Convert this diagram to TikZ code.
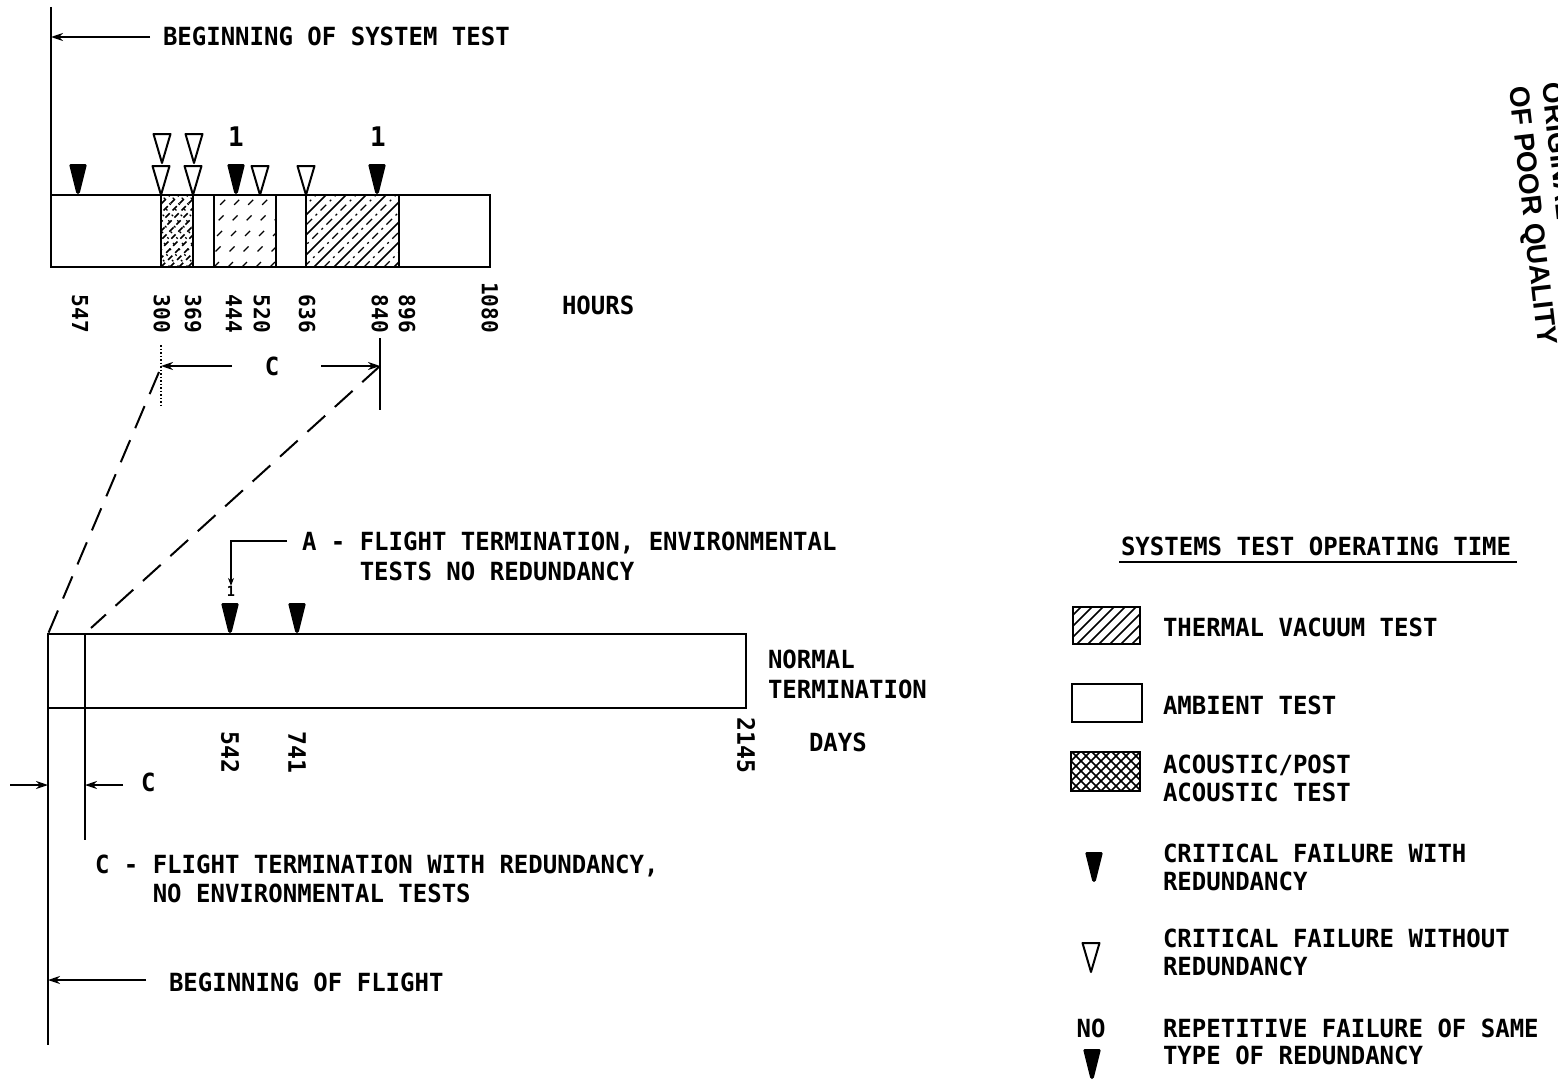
\documentclass[tikz,border=0pt]{standalone}
\usepackage{fontspec}
\usetikzlibrary{arrows.meta}
\newfontfamily\labfont{DejaVu Sans Mono}[FakeStretch=0.96]
\newfontfamily\stampfont{Liberation Sans}
\tikzset{
  every node/.style={inner sep=0pt, outer sep=0pt},
  txt/.style={font=\labfont\bfseries\fontsize{25}{27}\selectfont, anchor=base west},
  num/.style={font=\labfont\bfseries\fontsize{22}{24}\selectfont, rotate=-90, anchor=east},
  numb/.style={font=\labfont\bfseries\fontsize{24}{26}\selectfont, rotate=-90, anchor=east},
  one/.style={font=\labfont\bfseries\fontsize{27}{29}\selectfont},
  barline/.style={line width=2.5pt, black},
  ln/.style={line width=2pt},
  arr/.style={line width=2pt, -{Stealth[length=12pt,width=8pt]}},
  dashln/.style={line width=2pt, dash pattern=on 24pt off 13pt},
  hatch/.style={line width=1.5pt},
  stamptxt/.style={font=\stampfont\bfseries\fontsize{28}{30}\selectfont, rotate=-83.5, anchor=base west},
  fmark/.pic={\fill[rounded corners=1.5pt] (-9,-31) -- (9,-31) -- (1.5,-1) -- (-1.5,-1) -- cycle;},
  omark/.pic={\draw[line width=2pt, line join=round] (-8.5,-29) -- (8.5,-29) -- (0,0) -- cycle;},
}
\begin{document}
\begin{tikzpicture}[x=1pt,y=-1pt]
\useasboundingbox (0,0) rectangle (1558,1081);

% ---------- top: system test ----------
\coordinate (stTop) at (51,7);
\coordinate (stBar) at (51,195);
\coordinate (stArr) at (51,37);
\draw[ln] (stTop) -- (stBar);
\node[txt] (bst) at (163,46) {BEGINNING OF SYSTEM TEST};
\draw[arr] ([xshift=-13pt,yshift=9pt]bst.base west) -- (stArr);

% hatching of top bar
\begin{scope}
  \clip (161,195) rectangle (193,267);
  \foreach \k in {-72,-63,...,36} {\draw[hatch, dash pattern=on 6pt off 4pt] (161+\k,267) -- ++(72,-72);}
  \foreach \k in {0,9,...,108} {\draw[line width=1.2pt, dash pattern=on 2pt off 6pt] (161+\k,267) -- ++(-72,-72);}
\end{scope}
\begin{scope}
  \clip (214,195) rectangle (276,267);
  \foreach \k in {-70,-56,...,62} {\draw[line width=1.4pt, dash pattern=on 7pt off 15pt] (214+\k,267) -- ++(72,-72);}
\end{scope}
\begin{scope}
  \clip (306,195) rectangle (399,267);
  \foreach \k in {-72,-52,...,92} {\draw[hatch] (306+\k,267) -- ++(72,-72);}
  \foreach \k in {-62,-42,...,102} {\draw[line width=1.4pt, dash pattern=on 8pt off 5pt on 2pt off 5pt] (306+\k,267) -- ++(72,-72);}
\end{scope}

\draw[barline] (51,195) rectangle (490,267);
\foreach \d in {161,193,214,276,306,399} {\draw[barline] (\d,195) -- (\d,267);}

% markers on top bar
\pic at (78,195) {fmark};
\pic at (236,195) {fmark};
\pic at (377,195) {fmark};
\pic at (161,195) {omark};
\pic at (162,163) {omark};
\pic at (193,195) {omark};
\pic at (194,163) {omark};
\pic at (260,195) {omark};
\pic at (306,195) {omark};
\node[one] (one1) at (236,137) {1};
\node[one] (one2) at (378,137) {1};

% hour labels
\node[num] (h547) at (80,333) {547};
\node[num] (h300) at (162,333) {300};
\node[num] (h369) at (193,333) {369};
\node[num] (h444) at (234,333) {444};
\node[num] (h520) at (262,333) {520};
\node[num] (h636) at (307,333) {636};
\node[num] (h840) at (380,333) {840};
\node[num] (h896) at (407,333) {896};
\node[num] (h1080) at (490,333) {1080};
\node[txt] (hours) at (562,314) {HOURS};

% C span under top bar
\coordinate (cL) at (161,366);
\coordinate (cR) at (380,366);
\draw[line width=1.5pt, dotted] (161,345) -- (161,405);
\draw[ln] (380,338) -- (380,410);
\node[txt, anchor=center] (ctop) at (272,366) {C};
\draw[arr] ([xshift=-40pt]ctop.center) -- (cL);
\draw[arr] ([xshift=49pt]ctop.center) -- (cR);

% ---------- bottom: flight ----------
\coordinate (fTL) at (48,634);
\coordinate (fDiv) at (91,628);
\draw[dashln] (159,372) -- (fTL);
\draw[dashln] (cR) -- (fDiv);

\draw[barline] (48,634) rectangle (746,708);
\draw[barline] (85,634) -- (85,708);

\pic at (230,634) {fmark};
\pic at (297,634) {fmark};

\node[txt] (aL1) at (302,550) {A - FLIGHT TERMINATION, ENVIRONMENTAL};
\node[txt] (aL2) at (302,580) {\phantom{A - }TESTS NO REDUNDANCY};
\node[font=\labfont\bfseries\fontsize{14}{16}\selectfont] (aone) at (231,591) {1};
\draw[line width=2pt, -{Stealth[length=8pt,width=6pt]}] ([xshift=-15pt,yshift=9.5pt]aL1.base west) -| (aone.north);

\node[txt] (nt1) at (768,668) {NORMAL};
\node[txt] (nt2) at (768,698) {TERMINATION};

\node[numb] (d542) at (230,773) {542};
\node[numb] (d741) at (297,773) {741};
\node[numb] (d2145) at (746,773) {2145};
\node[txt] (days) at (809,751) {DAYS};

\coordinate (vL) at (48,785);
\coordinate (vR) at (85,785);
\draw[ln] (48,708) -- (48,1045);
\draw[ln] (85,708) -- (85,840);
\draw[arr] (10,785) -- (vL);
\node[txt] (cbot) at (141,791) {C};
\draw[arr] ([xshift=-18pt,yshift=6pt]cbot.base west) -- (vR);

\node[txt] (cL1) at (95,873) {C - FLIGHT TERMINATION WITH REDUNDANCY,};
\node[txt] (cL2) at (95,902) {\phantom{C - }NO ENVIRONMENTAL TESTS};

\coordinate (bf) at (48,980);
\node[txt] (bfl) at (169,991) {BEGINNING OF FLIGHT};
\draw[arr] ([xshift=-23pt,yshift=11pt]bfl.base west) -- (bf);

% ---------- legend ----------
\node[txt] (ttl) at (1121,555) {SYSTEMS TEST OPERATING TIME};
\draw[ln] ([xshift=-2pt,yshift=-7pt]ttl.base west) -- ([xshift=6pt,yshift=-7pt]ttl.base east);

\begin{scope}
  \clip (1073,607) rectangle (1140,644);
  \foreach \k in {-40,-29,...,70} {\draw[hatch] (1073+\k,644) -- ++(37,-37);}
\end{scope}
\draw[barline] (1073,607) rectangle (1140,644);
\node[txt] (lg1) at (1163,636) {THERMAL VACUUM TEST};

\draw[barline] (1072,684) rectangle (1142,722);
\node[txt] (lg2) at (1163,714) {AMBIENT TEST};

\begin{scope}
  \clip (1071,752) rectangle (1140,791);
  \foreach \k in {-40,-30,...,70} {\draw[hatch] (1071+\k,791) -- ++(39,-39);}
  \foreach \k in {0,10,...,110} {\draw[hatch] (1071+\k,791) -- ++(-39,-39);}
\end{scope}
\draw[barline] (1071,752) rectangle (1140,791);
\node[txt] (lg3a) at (1163,773) {ACOUSTIC/POST};
\node[txt] (lg3b) at (1163,801) {ACOUSTIC TEST};

\pic at (1094,883) {fmark};
\node[txt] (lg4a) at (1163,862.5) {CRITICAL FAILURE WITH};
\node[txt] (lg4b) at (1163,890.5) {REDUNDANCY};

\pic at (1091,972) {omark};
\node[txt] (lg5a) at (1163,947) {CRITICAL FAILURE WITHOUT};
\node[txt] (lg5b) at (1163,975) {REDUNDANCY};

\node[txt, anchor=center] (lgno) at (1091,1028) {NO};
\pic at (1092,1080) {fmark};
\node[txt] (lg6a) at (1163,1037) {REPETITIVE FAILURE OF SAME};
\node[txt] (lg6b) at (1163,1064) {TYPE OF REDUNDANCY};

% ---------- stamp ----------
\node[stamptxt] (stamp2) at (1509,88) {OF POOR QUALITY};
\node[stamptxt] (stamp1) at (1542,84) {ORIGINAL PAGE IS};
\end{tikzpicture}
\end{document}
